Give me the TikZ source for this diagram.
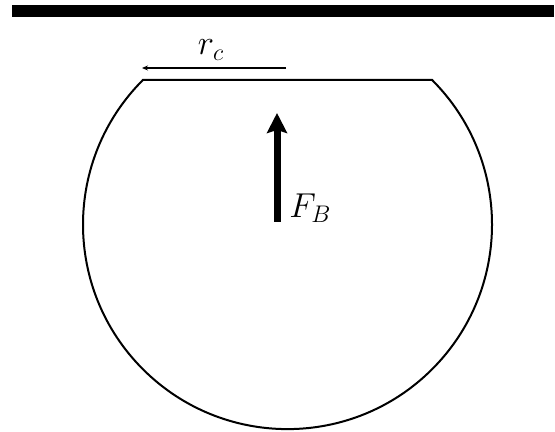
\documentclass[tikz,border=0pt]{standalone}
\usetikzlibrary{arrows.meta}
\begin{document}
\begin{tikzpicture}[x=0.5pt,y=-0.5pt,
  lbl/.style={inner sep=0pt,font=\fontsize{17}{20}\selectfont},
  thin arrow/.style={line width=0.65pt,-{Stealth[length=3pt,width=2.5pt]}},
  force/.style={line width=3.5pt,-{Stealth[length=10pt,width=10pt,inset=1.5pt]}}]
\useasboundingbox (0,0) rectangle (555,432);
% wall
\fill (12,5) rectangle (554,17);
% truncated sphere
\coordinate (L) at (142.9,80);
\coordinate (R) at (432.1,80);
\draw[line width=1pt] (L) arc[start angle=225,end angle=-45,radius=204.5] -- cycle;
% radius arrow
\coordinate (rs) at (286,68);
\coordinate (re) at (142,68);
\draw[thin arrow] (rs) -- (re);
\node[lbl] (rc) at (211,50) {$r_c$};
% buoyancy force
\coordinate (fs) at (277,222);
\coordinate (fe) at (277,113);
\draw[force] (fs) -- (fe);
\node[lbl,anchor=south west] (fb) at (289,223) {$F_B$};
\end{tikzpicture}
\end{document}
